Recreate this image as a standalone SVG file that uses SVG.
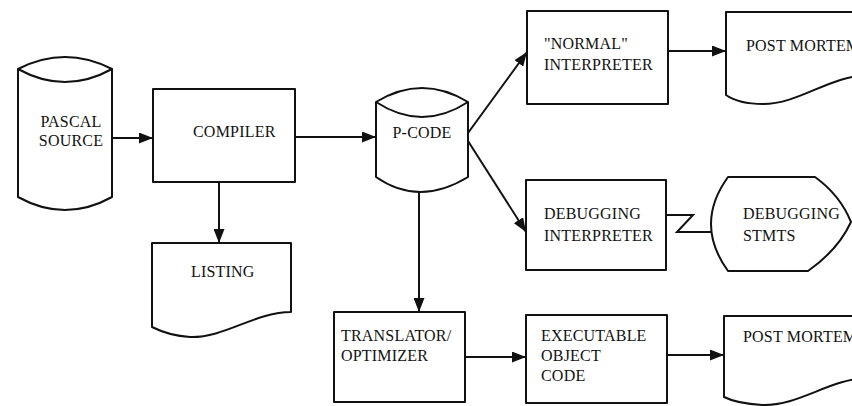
<svg xmlns="http://www.w3.org/2000/svg" width="852" height="406" viewBox="0 0 852 406">
  <defs>
    <marker id="arrow" viewBox="0 0 14 11" markerWidth="14" markerHeight="11" refX="14" refY="5.5" orient="auto" markerUnits="userSpaceOnUse">
      <path d="M0,0 L14,5.5 L0,11 Z" fill="#111"/>
    </marker>
    <style>
      .shape { fill: #fff; stroke: #111; stroke-width: 2; stroke-linejoin: round; }
      .line { fill: none; stroke: #111; stroke-width: 2; }
      .wire { fill: none; stroke: #111; stroke-width: 2; marker-end: url(#arrow); }
      text { font-family: "Liberation Serif", "DejaVu Serif", serif; font-size: 16px; fill: #111; letter-spacing: 0.2px; }
      .mid { text-anchor: middle; }
    </style>
  </defs>

  <rect width="852" height="406" fill="#fff"/>

  <!-- connectors -->
  <g id="connectors">
    <path class="wire" d="M112,138 H153"/>
    <path class="wire" d="M295,137 H376"/>
    <path class="wire" d="M219,182 V243"/>
    <path class="wire" d="M468,133 L527,52"/>
    <path class="wire" d="M468,141 L526,232"/>
    <path class="wire" d="M419,192 V312"/>
    <path class="wire" d="M668,51 H726"/>
    <path class="wire" d="M465,357 H526"/>
    <path class="wire" d="M667,355 H724"/>
    <path class="line" d="M666,215 H693 L677,232 H711"/>
  </g>

  <!-- PASCAL SOURCE (stored data cylinder) -->
  <g id="pascal-source">
    <path class="shape" d="M18,69 Q65,45 112,69 V197 Q65,223 18,197 Z"/>
    <path class="line" d="M18,69 Q65,95 112,69"/>
    <text class="mid" x="71" y="127">PASCAL</text>
    <text class="mid" x="71" y="146">SOURCE</text>
  </g>

  <!-- COMPILER -->
  <g id="compiler">
    <rect class="shape" x="153" y="89" width="142" height="93"/>
    <text x="193" y="137">COMPILER</text>
  </g>

  <!-- P-CODE (stored data cylinder) -->
  <g id="p-code">
    <path class="shape" d="M376,102 Q422,74 468,102 V177 Q419,207 376,177 Z"/>
    <path class="line" d="M376,102 Q422,132 468,102"/>
    <text class="mid" x="422" y="138">P-CODE</text>
  </g>

  <!-- LISTING (document) -->
  <g id="listing">
    <path class="shape" d="M152,243 H291 V312 C255,312 225,338 190,337 C172,336 160,331 152,327 Z"/>
    <text x="191" y="277">LISTING</text>
  </g>

  <!-- "NORMAL" INTERPRETER -->
  <g id="normal-interpreter">
    <rect class="shape" x="527" y="11" width="141" height="93"/>
    <text x="544" y="49">"NORMAL"</text>
    <text x="544" y="70">INTERPRETER</text>
  </g>

  <!-- POST MORTEM (document, upper) -->
  <g id="post-mortem-1">
    <path class="shape" d="M726,12 H870 V75 C830,75 800,104 763,104 C745,104 733,100 726,95 Z"/>
    <text x="746" y="51">POST MORTEM</text>
  </g>

  <!-- DEBUGGING INTERPRETER -->
  <g id="debugging-interpreter">
    <rect class="shape" x="526" y="180" width="140" height="90"/>
    <text x="544" y="219">DEBUGGING</text>
    <text x="544" y="241">INTERPRETER</text>
  </g>

  <!-- DEBUGGING STMTS (display) -->
  <g id="debugging-stmts">
    <path class="shape" d="M728,177 H815 Q840,195 851,222 Q838,250 808,271 H728 Q694,224 728,177 Z"/>
    <text x="743" y="219">DEBUGGING</text>
    <text x="743" y="241">STMTS</text>
  </g>

  <!-- TRANSLATOR/OPTIMIZER -->
  <g id="translator">
    <rect class="shape" x="334" y="312" width="131" height="90"/>
    <text x="341" y="341">TRANSLATOR/</text>
    <text x="341" y="361">OPTIMIZER</text>
  </g>

  <!-- EXECUTABLE OBJECT CODE -->
  <g id="executable">
    <rect class="shape" x="526" y="315" width="141" height="88"/>
    <text x="541" y="341">EXECUTABLE</text>
    <text x="541" y="361">OBJECT</text>
    <text x="541" y="381">CODE</text>
  </g>

  <!-- POST MORTEM (document, lower) -->
  <g id="post-mortem-2">
    <path class="shape" d="M724,316 H870 V378 C830,378 800,406 762,405 C745,404 732,401 724,397 Z"/>
    <text x="743" y="342">POST MORTEM</text>
  </g>
</svg>
